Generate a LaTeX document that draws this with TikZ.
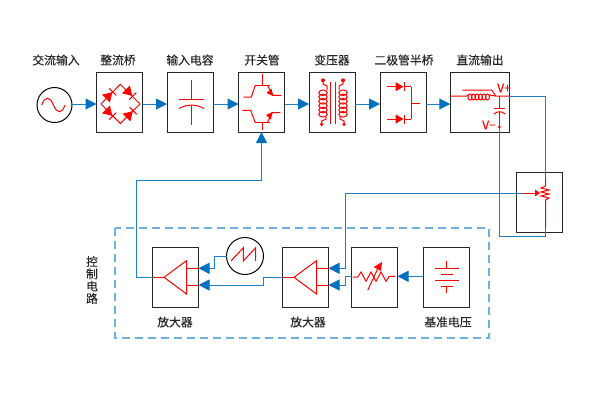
\documentclass[tikz,border=0pt]{standalone}
\usepackage{fontspec}
\setmainfont[FakeBold=0.2]{Noto Sans CJK SC}
\usetikzlibrary{arrows.meta}
\definecolor{wireblue}{HTML}{1F7FC4}
\definecolor{tipblue}{HTML}{0070C0}
\definecolor{framblue}{HTML}{6FB1DE}
\tikzset{
  blockbox/.style={draw=black!85,line width=1pt,minimum width=46pt,minimum height=60pt,inner sep=0pt,outer sep=0pt},
  roundbox/.style={circle,draw=black,line width=1pt,minimum size=37pt,inner sep=0pt,outer sep=0pt},
  titletext/.style={font=\fontsize{11.8pt}{12.3pt}\selectfont,text=black!85,inner sep=0pt},
  wire/.style={draw=wireblue,line width=1pt},
  arrowwire/.style={wire,-{Triangle[length=11pt,width=11pt,color=tipblue]}},
  icon/.style={draw=red,line width=1pt},
  diodeicon/.pic={
    \fill[red] (-5,-5.5) -- (4,0) -- (-5,5.5) -- cycle;
    \draw[icon] (4.5,-5) -- (4.5,5);
  }
}
\begin{document}
\begin{tikzpicture}[x=1pt,y=-1pt]
\useasboundingbox (0,0) rectangle (600,400);
% blocks
\node[roundbox,minimum size=35pt] (ac) at (54.5,105) {};
\node[blockbox] (rect) at (119.5,102) {};
\node[blockbox] (cap) at (190,102) {};
\node[blockbox] (sw) at (261.5,102) {};
\node[blockbox] (xfmr) at (332,102) {};
\node[blockbox] (diode) at (403,102) {};
\node[blockbox,minimum width=59pt] (out) at (479.75,102) {};
\node[blockbox] (pot) at (539,202) {};
\node[blockbox] (amp1) at (175.5,277) {};
\node[blockbox] (amp2) at (305.5,277) {};
\node[blockbox] (res) at (374.5,277) {};
\node[blockbox] (vref) at (446,277) {};
\node[roundbox] (saw) at (245,256) {};
% labels
\node[titletext] (lblac) at (56,60) {交流输入};
\node[titletext] (lblrect) at (118,60) {整流桥};
\node[titletext] (lblcap) at (190,60) {输入电容};
\node[titletext] (lblsw) at (262,60) {开关管};
\node[titletext] (lblxfmr) at (332,60) {变压器};
\node[titletext] (lbldiode) at (404,60) {二极管半桥};
\node[titletext] (lblout) at (480,60) {直流输出};
\node[titletext] (lblamp1) at (175,322) {放大器};
\node[titletext] (lblamp2) at (308,322) {放大器};
\node[titletext] (lblvref) at (448,322) {基准电压};
\node[titletext,align=center] (lblctrl) at (92,280) {控\\制\\电\\路};
\node[font=\fontsize{12pt}{12pt}\selectfont,text=red,inner sep=0pt] (lblvp) at (504,88) {V+};
\node[font=\fontsize{12pt}{12pt}\selectfont,text=red,inner sep=0pt] (lblvm) at (489,125) {V−};
% control frame
\draw[draw=framblue,line width=1.2pt,dash pattern=on 8pt off 5pt] (115,228) rectangle (489,338);
% pin positions
\coordinate (busy) at (0,104);
\coordinate (vplus) at (0,96);
\coordinate (vminus) at (499.3,127);
\coordinate (potin) at (545.7,177);
\coordinate (potout) at (545.7,228);
\coordinate (potwiper) at (523,193);
\coordinate (amphigh) at (0,268.3);
\coordinate (ampmid) at (0,277.3);
\coordinate (amplow) at (0,285);
\coordinate (tapa) at (345.5,268.3);
\coordinate (tapb) at (345.5,276.3);
\coordinate (jog) at (263.5,277.3);
\coordinate (sawjog) at (214.5,256);
\coordinate (gatey) at (136,180);
% connectors
\foreach \a/\b in {ac/rect,rect/cap,cap/sw,sw/xfmr,xfmr/diode,diode/out} {
\draw[arrowwire] (\a.east |- busy) -- (\b.west |- busy);
}
\draw[wire] (out.east |- vplus) -| (potin);
\draw[wire] (potout) -- ++(0,8) -| (vminus);
\draw[arrowwire] (potwiper) -| (tapa) -- (tapa -| amp2.east);
\draw[arrowwire] (res.west |- tapb) -- (tapb) |- (amp2.east |- amplow);
\draw[arrowwire] (vref.west |- tapb) -- (res.east |- tapb);
\draw[arrowwire] (amp2.west |- ampmid) -- (jog) |- (amp1.east |- amplow);
\draw[arrowwire] (saw.west) -- (sawjog) |- (amp1.east |- amphigh);
\draw[arrowwire] (amp1.west |- ampmid) -| (gatey) -| (sw.south);
% ac source
\draw[icon] (41.7,105) .. controls (45,96) and (50,96) .. (53.4,105) .. controls (57,114) and (62,114) .. (65,105);
% bridge
\draw[icon] (120.3,84.3) -- (140,104) -- (120.3,123.5) -- (101,104) -- cycle;
\pic[rotate=45] at (109.5,95) {diodeicon};
\pic[rotate=-45] at (129.5,93) {diodeicon};
\pic[rotate=-45] at (109.5,113) {diodeicon};
\pic[rotate=45] at (130,114) {diodeicon};
% input capacitor
\draw[icon] (191.7,80) -- (191.7,99.3) (179.3,99.3) -- (204,99.3);
\draw[icon] (179.3,108.5) .. controls (187,104) and (196,104) .. (204,108.5);
\draw[icon] (191.7,105.3) -- (191.7,125);
% switch
\draw[icon] (262.3,73.7) -- (262.3,85.3) (255.3,85.3) -- (269.7,85.3);
\draw[icon] (255.3,85.3) -- (251.3,97) -- (243.3,97);
\draw[icon] (267.3,85.3) -- (273,95.3) -- (281.3,95.3);
\fill[red] (273,96) -- (266.5,93) -- (271.5,88.5) -- cycle;
\draw[icon] (262.3,122.7) -- (262.3,130.3) (255.3,122.7) -- (269.7,122.7);
\draw[icon] (242.3,110.3) -- (250.7,110.3) -- (255.3,122.7);
\draw[icon] (267.3,122.7) -- (272.3,112.7) -- (280.3,112.7);
\fill[red] (272.5,112) -- (266,115) -- (271,119.5) -- cycle;
% transformer
\draw[icon] (330.7,82) -- (330.7,123.7) (335,82) -- (335,123.7);
\foreach \y in {92.7,97,101.3,105.7,110,114.3} {
\draw[icon] (323,\y) ellipse [x radius=4.2,y radius=2.8];
\draw[icon] (343,\y) ellipse [x radius=4.2,y radius=2.8];
}
\fill[red] (323,80.3) circle (2) (343,80.3) circle (2) (321.7,124.3) circle (1.8) (344,124.3) circle (1.8);
\draw[icon] (323,80.3) -- (323,84) -- (327,86) -- (327,90);
\draw[icon] (343,80.3) -- (343,84) -- (339,86) -- (339,90);
\draw[icon] (321.7,124.3) -- (321.7,121) -- (326,119) -- (326,117);
\draw[icon] (344,124.3) -- (344,121) -- (340,119) -- (340,117);
% half bridge diodes
\foreach \y in {86.7,119} {
\draw[icon] (386.7,\y) -- (395.7,\y) (404,\y-4.5) -- (404,\y+4.5) (404,\y) -- (411,\y);
\fill[red] (395.7,\y-4.5) -- (403.5,\y) -- (395.7,\y+4.5) -- cycle;
}
\draw[icon] (411,86.7) -- (411,119) (411,103.3) -- (420,103.3);
% output filter
\draw[icon] (450,96) -- (466.7,96) -- (468,95);
\draw[icon] (462.3,90) -- (491.7,90) -- (495.7,96) -- (509,96);
\foreach \x in {470,473.5,477,480.5,484,487.5} {
\draw[icon] (\x,97) ellipse [x radius=2,y radius=3];
}
\draw[icon] (489,95) -- (495.7,96);
\draw[icon] (499.3,96) -- (499.3,108.7) (494,108.7) -- (505,108.7);
\draw[icon] (494,114) .. controls (497,111) and (502,111) .. (505,114);
\draw[icon] (499.3,112) -- (vminus);
\fill[red] (vminus) circle (1.5);
% potentiometer
\draw[icon] (potin) -- (545.7,186) -- (541,188) -- (549,190) -- (541,192) -- (549,194) -- (541,196) -- (549,198) -- (545.7,200) -- (potout);
\draw[icon] (potwiper) -- (535,193);
\fill[red] (535,189.5) -- (540,193) -- (535,196.5) -- cycle;
% amplifiers
\foreach \x in {152.5,282.5} {
\draw[icon] (\x+11.5,277.3) -- (\x+34,260.7) -- (\x+34,294) -- cycle;
\draw[icon] (\x,277.3) -- (\x+11.5,277.3);
\draw[icon] (\x+34,268.3) -- (\x+46,268.3) (\x+34,285) -- (\x+46,285);
}
% sawtooth
\draw[icon] (231,261) -- (243.3,247.7) -- (243.3,261) -- (255.7,247.7) -- (255.7,261);
% variable resistor
\draw[icon] (352.7,277) -- (357.7,277) -- (361,272) -- (366,281.3) -- (371,272) -- (376,281.3) -- (381,272) -- (386,281.3) -- (389.3,276.3) -- (395.3,276.3);
\draw[icon] (367.7,290.3) -- (379,266);
\fill[red] (382,262) -- (373.7,267) -- (381,271) -- cycle;
% reference
\draw[icon] (446.7,261) -- (446.7,268.3) (435,268.3) -- (459,268.3) (440.7,274) -- (453.3,274);
\draw[icon] (435,280) -- (459,280) (440.7,286) -- (453.3,286) (446.7,286) -- (446.7,293.3);
\end{tikzpicture}
\end{document}
